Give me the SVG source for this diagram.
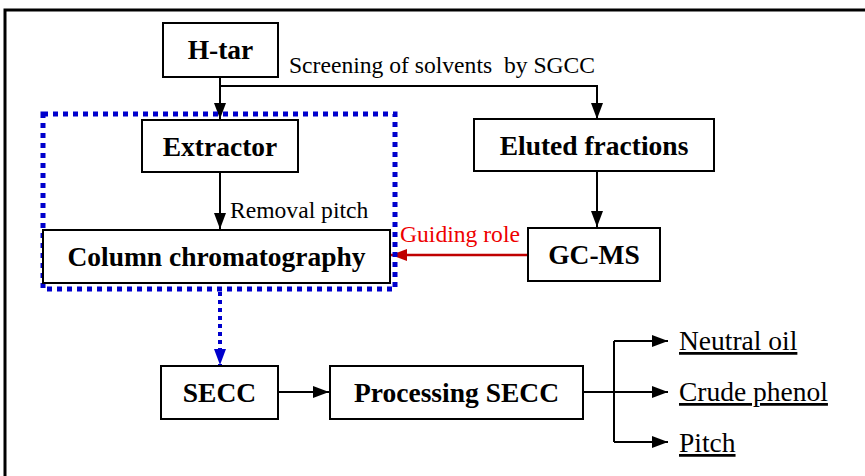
<svg xmlns="http://www.w3.org/2000/svg" width="865" height="476" viewBox="0 0 865 476">
<defs>
<marker id="ak" viewBox="0 0 16 12" refX="16" refY="6" markerWidth="16" markerHeight="12" markerUnits="userSpaceOnUse" orient="auto"><path d="M0,0 L16,6 L0,12 z" fill="#000"/></marker>
<marker id="ar" viewBox="0 0 16 12" refX="16" refY="6" markerWidth="16" markerHeight="12" markerUnits="userSpaceOnUse" orient="auto"><path d="M0,0 L16,6 L0,12 z" fill="#c00000"/></marker>
<marker id="abl" viewBox="0 0 16 12" refX="16" refY="6" markerWidth="16" markerHeight="12" markerUnits="userSpaceOnUse" orient="auto"><path d="M0,0 L16,6 L0,12 z" fill="#0000cc"/></marker>
</defs>
<style>
.box{fill:#fff;stroke:#000;stroke-width:2}
.t{font-weight:bold;font-size:27.5px;text-anchor:middle;fill:#000}
.l{font-size:23.6px;fill:#000}
.o{font-size:27.5px;fill:#000;text-decoration:underline}
.c{fill:none;stroke:#000;stroke-width:2}
</style>
<rect x="5" y="10" width="870" height="480" fill="#fff" stroke="#000" stroke-width="3"/>
<g font-family="Liberation Serif, serif">
<g id="connectors">
<path class="c" d="M220,77 V119" marker-end="url(#ak)"/>
<path class="c" d="M220,86 H597 V119" marker-end="url(#ak)"/>
<path class="c" d="M220,172 V229" marker-end="url(#ak)"/>
<path class="c" d="M597,171 V227" marker-end="url(#ak)"/>
<path d="M528,255 H391" fill="none" stroke="#c00000" stroke-width="2.5" marker-end="url(#ar)"/>
<path d="M220,292 V365" fill="none" stroke="#0000cc" stroke-width="4" stroke-dasharray="4,4" marker-end="url(#abl)"/>
<path class="c" d="M278,392 H329" marker-end="url(#ak)"/>
<path class="c" d="M583,392 H614"/>
<path class="c" d="M614,341 V442"/>
<path class="c" d="M614,341 H668" marker-end="url(#ak)"/>
<path class="c" d="M614,392 H668" marker-end="url(#ak)"/>
<path class="c" d="M614,442 H668" marker-end="url(#ak)"/>
<text class="l" x="289" y="73" xml:space="preserve">Screening of solvents  by SGCC</text>
<text class="l" x="230" y="218">Removal pitch</text>
<text class="l" x="400" y="242" style="fill:#ee0000">Guiding role</text>
</g>
<rect x="43" y="114" width="352" height="175" fill="none" stroke="#0000cc" stroke-width="5" stroke-dasharray="5,5"/>
<g id="htar"><rect class="box" x="163" y="23" width="115" height="54"/><text class="t" x="220.5" y="59">H-tar</text></g>
<g id="extractor"><rect class="box" x="142" y="120" width="156" height="52"/><text class="t" x="220" y="156">Extractor</text></g>
<g id="eluted"><rect class="box" x="474" y="119" width="240" height="52"/><text class="t" x="594" y="155">Eluted fractions</text></g>
<g id="column"><rect class="box" x="43" y="230" width="347" height="53"/><text class="t" x="216.5" y="266">Column chromatography</text></g>
<g id="gcms"><rect class="box" x="528" y="228" width="132" height="53"/><text class="t" x="594" y="264">GC-MS</text></g>
<g id="secc"><rect class="box" x="161" y="366" width="117" height="53"/><text class="t" x="219.5" y="402">SECC</text></g>
<g id="processing"><rect class="box" x="330" y="366" width="253" height="53"/><text class="t" x="456.5" y="402">Processing SECC</text></g>
<g id="neutral"><text class="o" x="679" y="350">Neutral oil</text></g>
<g id="phenol"><text class="o" x="679" y="401">Crude phenol</text></g>
<g id="pitch"><text class="o" x="679" y="452">Pitch</text></g>
</g>
</svg>
